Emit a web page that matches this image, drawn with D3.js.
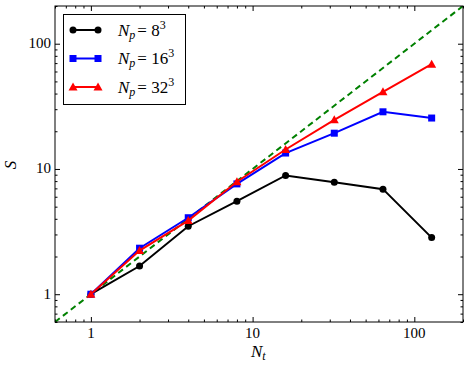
<!DOCTYPE html>
<html><head><meta charset="utf-8">
<script src="https://cdn.jsdelivr.net/npm/d3@7"></script>
<style>body{margin:0;background:#fff}svg{display:block}</style>
</head><body>
<script>
const nt = [1, 2, 4, 8, 16, 32, 64, 128];
const s8 = [1, 1.68, 3.49, 5.53, 8.87, 7.84, 6.9, 2.83];
const s16 = [1, 2.33, 4.08, 7.6, 13.4, 19.3, 28.6, 25.5];
const s32 = [1, 2.23, 3.87, 7.9, 14.3, 24.7, 41.3, 68.7];
const idealLine = [0.6, 200];
const tickVals = [1, 10, 100];
const tickLabels = ["1", "10", "100"];

const W = 470, H = 369;
const L = 55, R = 463, T = 6, B = 322;
const FONT = "'Liberation Serif', serif";
const svg = d3.select("body").append("svg").attr("width", W).attr("height", H);
const x = d3.scaleLog().domain([0.6, 200]).range([L, R]);
const y = d3.scaleLog().domain([0.6, 200]).range([B, T]);

const minor = [];
[0.1, 1, 10, 100].forEach(d => { for (let k = 2; k <= 9; k++) { const v = d * k; if (v >= 0.6 && v <= 200 && !tickVals.includes(v)) minor.push(v); } });

function axisTicks(axisGen, tx, ty, vals, size) {
  const g = svg.append("g").attr("transform", `translate(${tx},${ty})`)
    .call(axisGen.tickValues(vals).tickSizeInner(size).tickSizeOuter(0).tickFormat(() => ""));
  g.select(".domain").remove();
  g.selectAll(".tick line").attr("stroke", "#000").attr("stroke-width", 1);
  return g;
}
axisTicks(d3.axisBottom(x), 0, B, tickVals, -5);
axisTicks(d3.axisBottom(x), 0, B, minor, -2.5);
axisTicks(d3.axisTop(x), 0, T, tickVals, -5);
axisTicks(d3.axisTop(x), 0, T, minor, -2.5);
axisTicks(d3.axisLeft(y), L, 0, tickVals, -5);
axisTicks(d3.axisLeft(y), L, 0, minor, -2.5);
axisTicks(d3.axisRight(y), R, 0, tickVals, -5);
axisTicks(d3.axisRight(y), R, 0, minor, -2.5);

tickVals.forEach((v, i) => {
  svg.append("text").attr("x", x(v)).attr("y", B + 16).attr("text-anchor", "middle")
    .style("font-family", FONT).attr("font-size", 15).text(tickLabels[i]);
  svg.append("text").attr("x", L - 4).attr("y", y(v) + 4.5).attr("text-anchor", "end")
    .style("font-family", FONT).attr("font-size", 15).text(tickLabels[i]);
});

svg.append("defs").append("clipPath").attr("id", "c")
  .append("rect").attr("x", L).attr("y", T).attr("width", R - L).attr("height", B - T);

svg.append("line").attr("clip-path", "url(#c)")
  .attr("x1", x(idealLine[0])).attr("y1", y(idealLine[0]))
  .attr("x2", x(idealLine[1])).attr("y2", y(idealLine[1]))
  .attr("stroke", "#008000").attr("stroke-width", 2).attr("stroke-dasharray", "6,4");

const line = d3.line().x(d => x(d[0])).y(d => y(d[1]));
const series = [
  { vals: s8, color: "#000", marker: "circle", label: "8" },
  { vals: s16, color: "#0000ff", marker: "square", label: "16" },
  { vals: s32, color: "#ff0000", marker: "triangle", label: "32" }
];
function drawMarker(g, type, cx, cy, color) {
  if (type === "circle") g.append("circle").attr("cx", cx).attr("cy", cy).attr("r", 3.5).attr("fill", color);
  else if (type === "square") g.append("rect").attr("x", cx - 3.5).attr("y", cy - 3.5).attr("width", 7).attr("height", 7).attr("fill", color);
  else g.append("path").attr("d", `M${cx},${cy - 4.5}L${cx + 4.5},${cy + 3.5}L${cx - 4.5},${cy + 3.5}Z`).attr("fill", color);
}
series.forEach(s => {
  const pts = nt.map((n, i) => [n, s.vals[i]]);
  svg.append("path").attr("d", line(pts)).attr("fill", "none").attr("stroke", s.color).attr("stroke-width", 2);
  const g = svg.append("g");
  pts.forEach(p => drawMarker(g, s.marker, x(p[0]), y(p[1]), s.color));
});

svg.append("rect").attr("x", L).attr("y", T).attr("width", R - L).attr("height", B - T)
  .attr("fill", "none").attr("stroke", "#000").attr("stroke-width", 1);

const lg = svg.append("g");
lg.append("rect").attr("x", 63.5).attr("y", 14.5).attr("width", 122).attr("height", 90)
  .attr("fill", "#fff").attr("stroke", "#000").attr("stroke-width", 1);
series.forEach((s, i) => {
  const yy = 30 + i * 28.5;
  lg.append("line").attr("x1", 73).attr("x2", 98).attr("y1", yy).attr("y2", yy).attr("stroke", s.color).attr("stroke-width", 2);
  drawMarker(lg, s.marker, 73, yy, s.color);
  drawMarker(lg, s.marker, 98, yy, s.color);
  const t = lg.append("text").attr("x", 118).attr("y", yy + 5.5).attr("font-size", 17).style("font-family", FONT);
  t.append("tspan").attr("font-style", "italic").text("N");
  t.append("tspan").attr("font-style", "italic").attr("font-size", 12).attr("dy", 3).text("p");
  t.append("tspan").attr("dy", -3).attr("dx", 2).text("= " + s.label);
  t.append("tspan").attr("font-size", 12).attr("dy", -7).text("3");
});

svg.append("text").attr("x", 251).attr("y", 357).attr("font-size", 17).style("font-family", FONT)
  .attr("font-style", "italic").text("N")
  .append("tspan").attr("font-size", 12).attr("dy", 3).text("t");
svg.append("text").attr("transform", "translate(16,165) rotate(-90)").attr("text-anchor", "middle")
  .style("font-family", FONT).attr("font-size", 17).attr("font-style", "italic").text("S");
</script>
</body></html>
